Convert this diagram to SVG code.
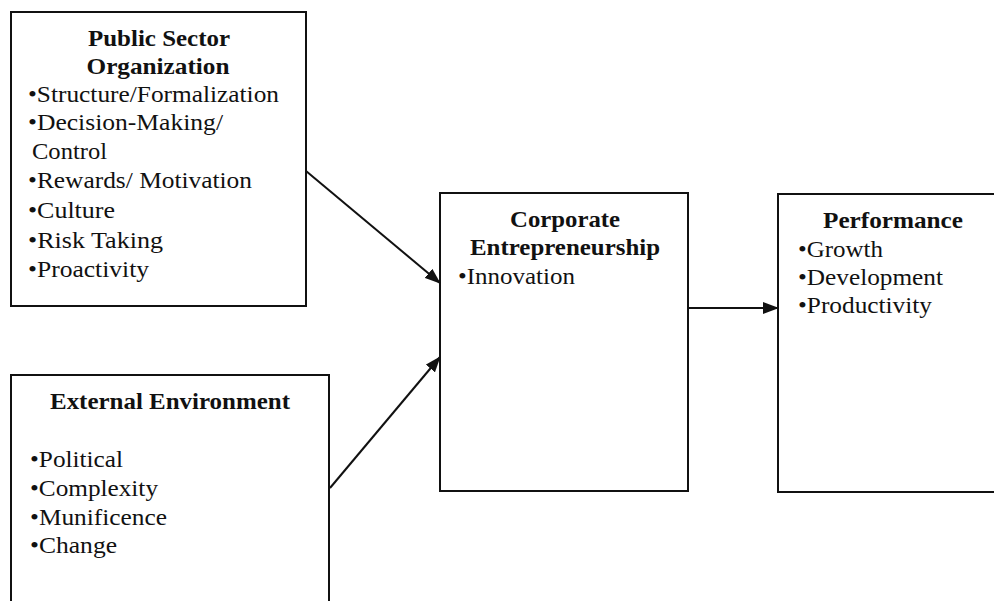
<svg xmlns="http://www.w3.org/2000/svg" width="994" height="601" viewBox="0 0 994 601">
  <style>
    .box { fill: #ffffff; stroke: #111111; stroke-width: 2; }
    text { font-family: "Times New Roman", "Liberation Serif", Tinos, serif; font-size: 24px; fill: #111111; }
    .title { font-weight: bold; text-anchor: middle; }
    .edge { stroke: #111111; stroke-width: 2; fill: none; marker-end: url(#arrow); }
  </style>
  <defs>
    <marker id="arrow" markerWidth="16" markerHeight="12" refX="15" refY="6" orient="auto" markerUnits="userSpaceOnUse">
      <path d="M0,0 L16,6 L0,12 Z" fill="#111111"/>
    </marker>
  </defs>
  <rect width="994" height="601" fill="#ffffff"/>

  <g id="public-sector">
    <rect class="box" x="11" y="12" width="295" height="294"/>
    <text class="title" x="159" y="46" textLength="142" lengthAdjust="spacingAndGlyphs">Public Sector</text>
    <text class="title" x="158" y="74" textLength="143" lengthAdjust="spacingAndGlyphs">Organization</text>
    <text x="28" y="102" textLength="251" lengthAdjust="spacingAndGlyphs">•Structure/Formalization</text>
    <text x="28" y="130" textLength="195" lengthAdjust="spacingAndGlyphs">•Decision-Making/</text>
    <text x="32" y="159" textLength="75" lengthAdjust="spacingAndGlyphs">Control</text>
    <text x="28" y="188" textLength="224" lengthAdjust="spacingAndGlyphs">•Rewards/ Motivation</text>
    <text x="28" y="218" textLength="87" lengthAdjust="spacingAndGlyphs">•Culture</text>
    <text x="28" y="248" textLength="135" lengthAdjust="spacingAndGlyphs">•Risk Taking</text>
    <text x="28" y="277" textLength="121" lengthAdjust="spacingAndGlyphs">•Proactivity</text>
  </g>

  <g id="external-environment">
    <rect class="box" x="11" y="375" width="318" height="240"/>
    <text class="title" x="170" y="409" textLength="240" lengthAdjust="spacingAndGlyphs">External Environment</text>
    <text x="30" y="467" textLength="93" lengthAdjust="spacingAndGlyphs">•Political</text>
    <text x="30" y="496" textLength="128" lengthAdjust="spacingAndGlyphs">•Complexity</text>
    <text x="30" y="525" textLength="137" lengthAdjust="spacingAndGlyphs">•Munificence</text>
    <text x="30" y="553" textLength="87" lengthAdjust="spacingAndGlyphs">•Change</text>
  </g>

  <g id="corporate-entrepreneurship">
    <rect class="box" x="440" y="193" width="248" height="298"/>
    <text class="title" x="565" y="227" textLength="110" lengthAdjust="spacingAndGlyphs">Corporate</text>
    <text class="title" x="565" y="255" textLength="190" lengthAdjust="spacingAndGlyphs">Entrepreneurship</text>
    <text x="458" y="284" textLength="117" lengthAdjust="spacingAndGlyphs">•Innovation</text>
  </g>

  <g id="performance">
    <rect class="box" x="778" y="194" width="240" height="298"/>
    <text class="title" x="893" y="228" textLength="140" lengthAdjust="spacingAndGlyphs">Performance</text>
    <text x="798" y="257" textLength="85" lengthAdjust="spacingAndGlyphs">•Growth</text>
    <text x="798" y="285" textLength="145" lengthAdjust="spacingAndGlyphs">•Development</text>
    <text x="798" y="313" textLength="134" lengthAdjust="spacingAndGlyphs">•Productivity</text>
  </g>

  <g id="connectors">
    <line class="edge" x1="306" y1="171" x2="440" y2="283"/>
    <line class="edge" x1="330" y1="488" x2="440" y2="357"/>
    <line class="edge" x1="688" y1="308" x2="778" y2="308"/>
  </g>
</svg>
